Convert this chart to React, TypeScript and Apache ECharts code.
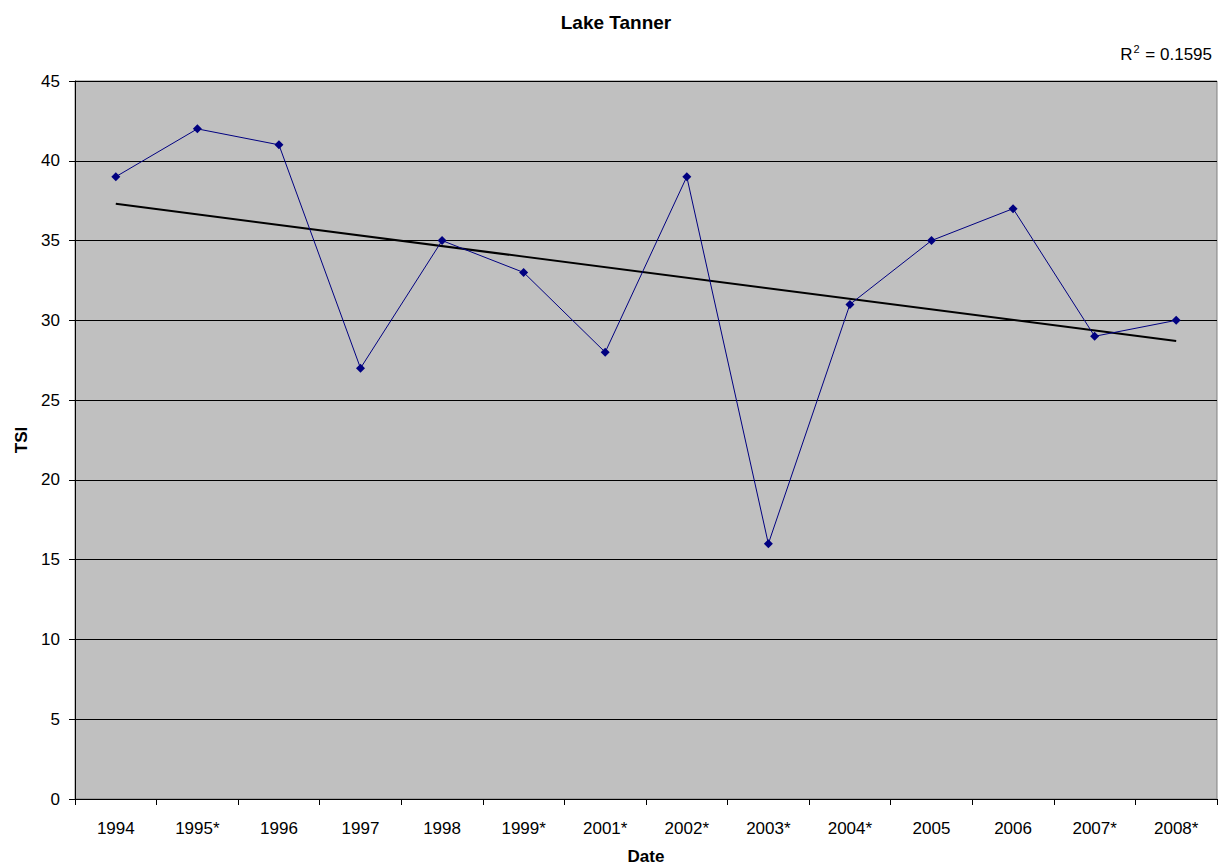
import React, { useEffect, useRef } from "react";
import * as echarts from "echarts";

const categories = ["1994", "1995*", "1996", "1997", "1998", "1999*", "2001*", "2002*", "2003*", "2004*", "2005", "2006", "2007*", "2008*"];
const tsiValues = [39, 42, 41, 27, 35, 33, 28, 39, 16, 31, 35, 37, 29, 30];
const trendEnds = [37.3, 28.7];
const yTicks = [0, 5, 10, 15, 20, 25, 30, 35, 40, 45];

export default function App() {
  const ref = useRef<HTMLDivElement>(null);
  useEffect(() => {
    if (!ref.current) return;
    const chart = echarts.init(ref.current, null, { renderer: "svg" });
    const font = "Arial, 'Liberation Sans', sans-serif";
    chart.setOption({
      animation: false,
      textStyle: { fontFamily: font },
      title: [
        {
          text: "Lake Tanner",
          left: 611,
          textAlign: "center",
          top: 8,
          textStyle: { fontSize: 19, fontWeight: "bold", color: "#000", fontFamily: font },
        },
        {
          text: "{r|R}{s|2}{r| = 0.1595}",
          right: 5,
          top: 38,
          textStyle: {
            fontWeight: "normal",
            rich: {
              r: { fontSize: 17, fontWeight: "normal", color: "#000", fontFamily: font, verticalAlign: "bottom", lineHeight: 20 },
              s: { fontSize: 11, fontWeight: "normal", color: "#000", fontFamily: font, verticalAlign: "top", lineHeight: 20, padding: [0, 1, 10, 1] },
            },
          },
        },
      ],
      grid: {
        left: 75,
        right: 5,
        top: 81,
        bottom: 69,
        outerBoundsMode: "none",
        containLabel: false,
        show: true,
        backgroundColor: "#c0c0c0",
        borderColor: "#808080",
        borderWidth: 1,
      },
      xAxis: {
        type: "category",
        data: categories,
        boundaryGap: true,
        name: "Date",
        nameLocation: "middle",
        nameGap: 49,
        nameTextStyle: { fontSize: 17, fontWeight: "bold", color: "#000", fontFamily: font },
        axisLine: { lineStyle: { color: "#000", width: 1 } },
        axisTick: { show: true, inside: false, length: 6, alignWithLabel: false, lineStyle: { color: "#000" } },
        axisLabel: { fontSize: 17, color: "#000", margin: 21, fontFamily: font, interval: 0 },
        splitLine: { show: false },
      },
      yAxis: {
        type: "value",
        min: yTicks[0],
        max: yTicks[yTicks.length - 1],
        interval: 5,
        name: "TSI",
        nameLocation: "middle",
        nameGap: 45,
        nameRotate: 90,
        nameTextStyle: { fontSize: 17, fontWeight: "bold", color: "#000", fontFamily: font },
        axisLine: { show: true, lineStyle: { color: "#000", width: 1 } },
        axisTick: { show: true, length: 6, lineStyle: { color: "#000" } },
        axisLabel: { fontSize: 17, color: "#000", margin: 15, fontFamily: font },
        splitLine: { show: true, lineStyle: { color: "#000", width: 1 } },
      },
      series: [
        {
          type: "line",
          data: tsiValues,
          symbol: "diamond",
          symbolSize: 9,
          lineStyle: { color: "#000080", width: 1 },
          itemStyle: { color: "#000080" },
          z: 3,
        },
        {
          type: "line",
          data: [
            [categories[0], trendEnds[0]],
            [categories[categories.length - 1], trendEnds[1]],
          ],
          symbol: "none",
          lineStyle: { color: "#000", width: 2 },
          z: 2,
        },
      ],
    });
    return () => chart.dispose();
  }, []);
  return <div ref={ref} style={{ width: 1222, height: 868, position: "absolute", left: 0, top: 0 }} />;
}
